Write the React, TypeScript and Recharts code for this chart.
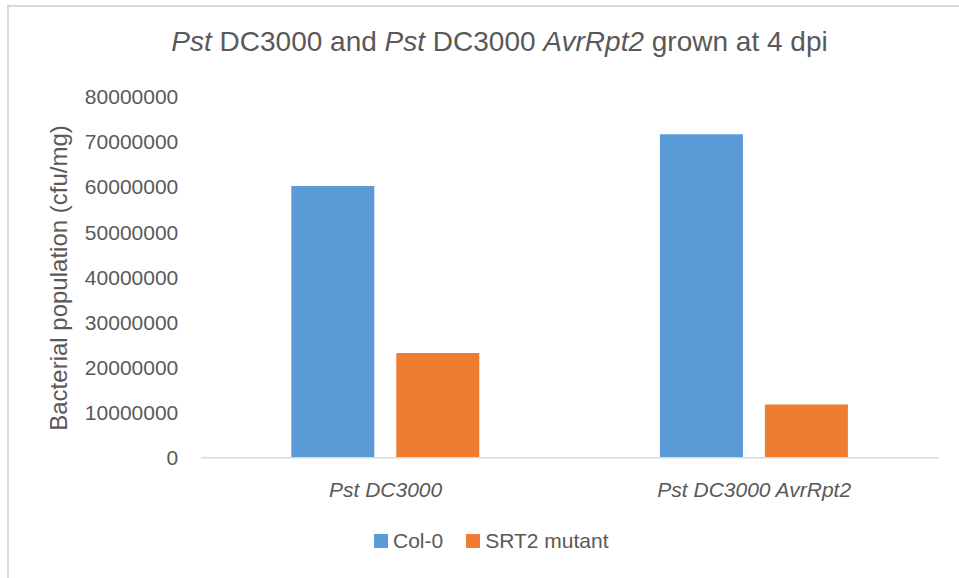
import React from 'react';
import { BarChart, Bar, XAxis, YAxis, Legend, Label } from 'recharts';

// values
const strains = ['Pst DC3000', 'Pst DC3000 AvrRpt2'];
const col0 = [60200000, 71700000];
const srt2Mutant = [23200000, 11800000];
const yTicks = [0, 10000000, 20000000, 30000000, 40000000, 50000000, 60000000, 70000000, 80000000];

const seriesNames = ['Col-0', 'SRT2 mutant'];
const colors = ['#5B9BD5', '#ED7D31'];

const FONT = "'Liberation Sans', Arial, sans-serif";
const TEXT = '#595959';

const data = strains.map((s, i) => ({ strain: s, col0: col0[i], srt2: srt2Mutant[i] }));

const LegendBox = () => (
  <div style={{ display: 'flex', alignItems: 'center', fontFamily: FONT, fontSize: 21, color: TEXT }}>
    {seriesNames.map((n, i) => (
      <div key={n} style={{ display: 'flex', alignItems: 'center', marginRight: i === 0 ? 23 : 0 }}>
        <span style={{ width: 14, height: 14, background: colors[i], marginRight: 5, display: 'inline-block' }} />
        <span>{n}</span>
      </div>
    ))}
  </div>
);

const YLabel = () => (
  <text
    x={66.5}
    y={278}
    transform="rotate(-90 66.5 278)"
    textAnchor="middle"
    fill={TEXT}
    fontFamily={FONT}
    fontSize={24}
  >
    Bacterial population (cfu/mg)
  </text>
);

export default function App() {
  return (
    <div style={{ position: 'absolute', left: 0, top: 0, width: 959, height: 578, background: '#fff', overflow: 'hidden' }}>
      {/* chart frame: only top and left edges show */}
      <div
        style={{
          position: 'absolute',
          left: 7,
          top: 5,
          width: 960,
          height: 580,
          borderTop: '2px solid #d9d9d9',
          borderLeft: '2px solid #d9d9d9',
        }}
      />
      <div
        style={{
          position: 'absolute',
          left: 40,
          top: 28,
          width: 919,
          textAlign: 'center',
          fontFamily: FONT,
          fontSize: 28,
          lineHeight: '28px',
          color: TEXT,
          whiteSpace: 'nowrap',
        }}
      >
        <i>Pst</i> DC3000 and <i>Pst</i> DC3000 <i>AvrRpt2</i> grown at 4 dpi
      </div>
      <BarChart
        width={959}
        height={578}
        data={data}
        margin={{ top: 96.7, right: 20.5, bottom: 90.3, left: 0 }}
        barSize={83}
        barGap={22}
        style={{ position: 'absolute', left: 0, top: 0 }}
      >
        <XAxis
          dataKey="strain"
          height={30}
          axisLine={{ stroke: '#d9d9d9', strokeWidth: 1.5 }}
          tickLine={false}
          tickSize={0}
          tickMargin={24}
          tick={{ fill: TEXT, fontSize: 21, fontFamily: FONT, fontStyle: 'italic' }}
        />
        <YAxis
          width={201.3}
          domain={[0, 80000000]}
          ticks={yTicks}
          interval={0}
          axisLine={false}
          tickLine={false}
          tickSize={0}
          tickMargin={23}
          tick={{ fill: TEXT, fontSize: 21, fontFamily: FONT }}
        >
          <Label content={<YLabel />} />
        </YAxis>
        <Legend
          verticalAlign="middle"
          align="center"
          content={<LegendBox />}
          wrapperStyle={{ position: 'absolute', left: 374, top: 529, width: 'auto' }}
        />
        <Bar dataKey="col0" name={seriesNames[0]} fill={colors[0]} isAnimationActive={false} />
        <Bar dataKey="srt2" name={seriesNames[1]} fill={colors[1]} isAnimationActive={false} />
      </BarChart>
    </div>
  );
}
